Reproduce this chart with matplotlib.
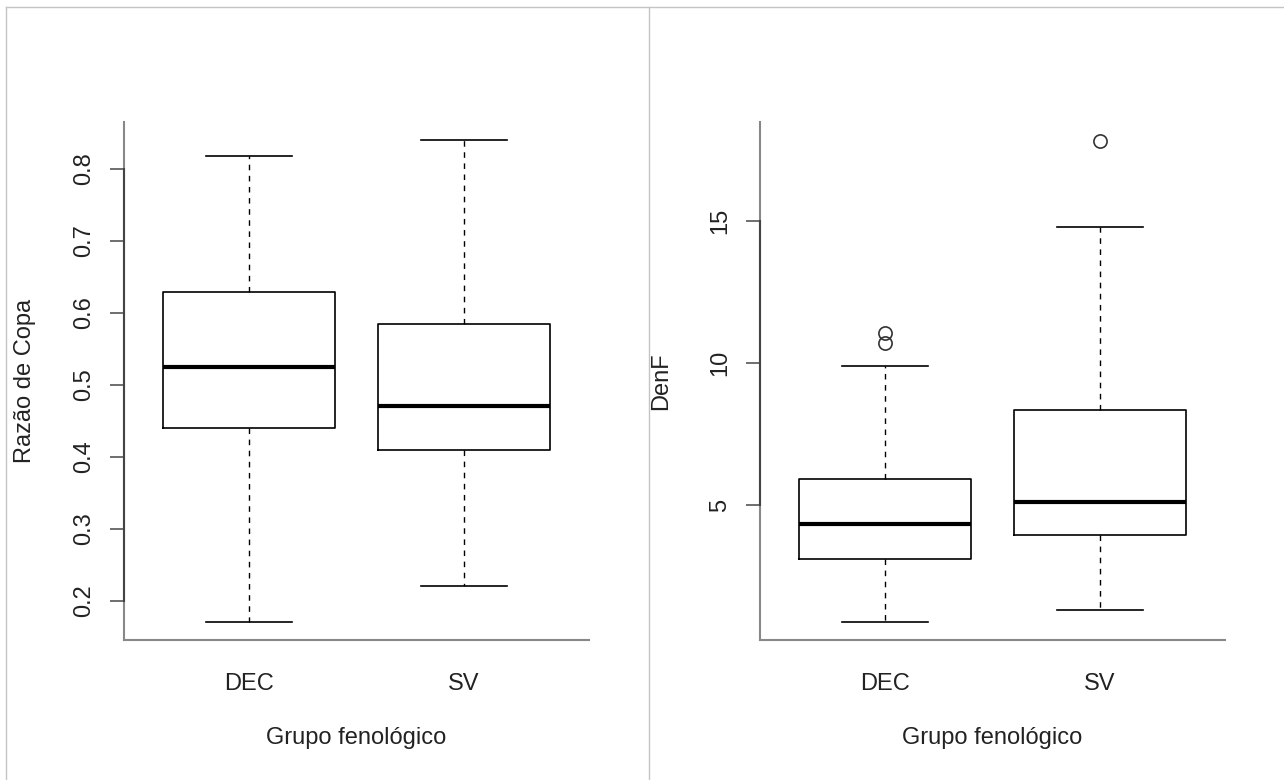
import matplotlib
matplotlib.use("Agg")
import matplotlib.pyplot as plt
from matplotlib.lines import Line2D

plt.rcParams['font.family'] = ['Liberation Sans', 'DejaVu Sans']

# dados
grupos = ['DEC', 'SV']

razao_whislo = [0.171, 0.221]
razao_q1 = [0.440, 0.410]
razao_med = [0.525, 0.471]
razao_q3 = [0.629, 0.585]
razao_whishi = [0.818, 0.840]
razao_fliers = [[], []]

denf_whislo = [0.88, 1.30]
denf_q1 = [3.10, 3.94]
denf_med = [4.33, 5.10]
denf_q3 = [5.92, 8.35]
denf_whishi = [9.89, 14.79]
denf_fliers = [[10.70, 11.05], [17.82]]

razao_ticks = [0.2, 0.3, 0.4, 0.5, 0.6, 0.7, 0.8]
denf_ticks = [5, 10, 15]


def stats(lo, q1, med, q3, hi, fl):
    out = []
    for i in range(len(grupos)):
        out.append(dict(label=grupos[i], whislo=lo[i], q1=q1[i], med=med[i],
                        q3=q3[i], whishi=hi[i], fliers=fl[i]))
    return out


def painel(ax, st, ticks, ylim, ylab):
    ax.bxp(st, positions=[1, 2], widths=0.8, showfliers=True,
           boxprops=dict(color='black', linewidth=1.2),
           medianprops=dict(color='black', linewidth=3.0, solid_capstyle='butt'),
           whiskerprops=dict(color='black', linewidth=1.0, linestyle=(0, (4, 4))),
           capprops=dict(color='black', linewidth=1.2),
           capwidths=0.4,
           flierprops=dict(marker='o', markerfacecolor='none', markeredgecolor='#333333',
                           markersize=9.5, markeredgewidth=1.2))
    ax.set_xlim(0.42, 2.58)
    ax.set_ylim(*ylim)
    for s in ['top', 'right']:
        ax.spines[s].set_visible(False)
    for s in ['left', 'bottom']:
        ax.spines[s].set_color('#888888')
        ax.spines[s].set_linewidth(1.5)
    # linha do eixo entre os ticks (mais escura)
    ax.plot([0, 0], [ticks[0], ticks[-1]], color='#444444', lw=1.5,
            transform=ax.get_yaxis_transform(), clip_on=False, zorder=5)
    ax.set_yticks(ticks)
    ax.set_yticklabels([str(t) for t in ticks], rotation=90, va='center')
    ax.tick_params(axis='y', length=10, width=1.2, color='#555555', pad=11,
                   labelsize=17, colors='#222222')
    ax.tick_params(axis='y', colors='#555555', labelcolor='#222222')
    ax.set_xticks([1, 2])
    ax.set_xticklabels(grupos)
    ax.tick_params(axis='x', length=0, pad=24, labelsize=17, labelcolor='#222222')
    ax.set_xlabel('Grupo fenológico', fontsize=17, color='#222222')
    ax.xaxis.set_label_coords(0.5, -0.189)
    ax.xaxis.label.set_va('center')
    ax.set_ylabel(ylab, fontsize=17, color='#222222')
    ax.yaxis.set_label_coords(-0.214, 0.5)
    ax.yaxis.label.set_va('center')


fig = plt.figure(figsize=(12.84, 7.80), dpi=100)
ax1 = fig.add_axes([124.3 / 1284, 1 - 640 / 780, 464.4 / 1284, 518 / 780])
ax2 = fig.add_axes([760.3 / 1284, 1 - 640 / 780, 464.4 / 1284, 518 / 780])

painel(ax1, stats(razao_whislo, razao_q1, razao_med, razao_q3, razao_whishi, razao_fliers),
       razao_ticks, (0.146, 0.865), 'Razão de Copa')
painel(ax2, stats(denf_whislo, denf_q1, denf_med, denf_q3, denf_whishi, denf_fliers),
       denf_ticks, (0.246, 18.49), 'DenF')

# moldura cinza da figura
cor = '#c4c4c4'
fig.add_artist(Line2D([6 / 1284, 1], [1 - 7 / 780, 1 - 7 / 780], color=cor, lw=1))
fig.add_artist(Line2D([6 / 1284, 6 / 1284], [0, 1 - 7 / 780], color=cor, lw=1))
fig.add_artist(Line2D([649 / 1284, 649 / 1284], [0, 1 - 7 / 780], color=cor, lw=1))

fig.savefig('out.png', dpi=100)
